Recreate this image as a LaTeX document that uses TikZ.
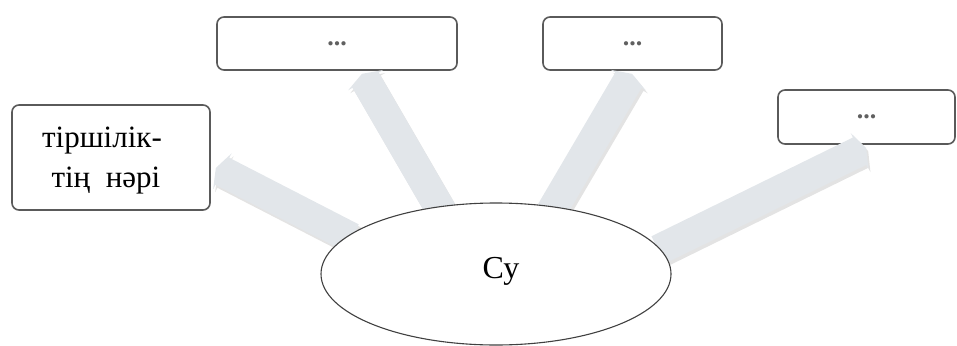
\documentclass[tikz,border=0pt]{standalone}
\usepackage{fontspec}
\setmainfont{Liberation Serif}
\usetikzlibrary{shapes.arrows,shapes.geometric,shadows,calc}
\definecolor{arrowfill}{HTML}{E2E6EA}
\definecolor{boxline}{HTML}{5A5A5A}
\tikzset{
  roundbox/.style={draw=boxline, line width=1.6pt, rounded corners=7pt, fill=white, inner sep=0pt},
  dotstext/.style={font=\bfseries\fontsize{26}{28}\selectfont, text=gray!75!black},
  blockarrow/.style={single arrow, fill=arrowfill, draw=none, minimum width=0pt,
    inner xsep=0pt, inner ysep=15pt,
    single arrow head extend=5pt, single arrow tip angle=140,
    drop shadow={opacity=0.22, shadow xshift=2pt, shadow yshift=-3pt}},
  suell/.style={ellipse, draw=black!75, line width=1.1pt, fill=white, inner sep=0pt}
}
\newcommand{\blockarr}[2]{%
  \path let \p1=(#1), \p2=(#2), \n1={atan2(\y2-\y1,\x2-\x1)}, \n2={veclen(\x2-\x1,\y2-\y1)} in
    node[blockarrow, rotate=\n1, minimum height=\n2, anchor=tail] at (#1) {};}
\begin{document}
\begin{tikzpicture}[x=1pt,y=-1pt]
\useasboundingbox (0,0) rectangle (957,345);
% boxes
\node[roundbox, minimum width=198pt, minimum height=105pt] (L) at (111,157.5) {};
\node[align=center, font=\fontsize{31}{40}\selectfont, inner sep=0pt] (Lt) at (102,161) {тіршілік-\\\ тің\ \ нәрі};
\node[roundbox, minimum width=240pt, minimum height=53pt, dotstext] (T1) at (337,43.5) {...};
\node[roundbox, minimum width=179pt, minimum height=53pt, dotstext] (T2) at (632.5,43.5) {...};
\node[roundbox, minimum width=177pt, minimum height=54pt, dotstext] (R) at (866.5,117) {...};
% arrow endpoints
\coordinate (a1s) at (352,238);
\coordinate (a1e) at (216,168);
\coordinate (a2s) at (442,212);
\coordinate (a2e) at (362,74);
\coordinate (a3s) at (551,212);
\coordinate (a3e) at (632,74);
\coordinate (a4s) at (658,250);
\coordinate (a4e) at (866,148);
\blockarr{a1s}{a1e}
\blockarr{a2s}{a2e}
\blockarr{a3s}{a3e}
\blockarr{a4s}{a4e}
% ellipse
\node[suell, minimum width=350pt, minimum height=142pt] (S) at (496,274) {};
\node[font=\fontsize{32}{36}\selectfont, inner sep=0pt] (St) at (501,271) {Су};
\end{tikzpicture}
\end{document}
